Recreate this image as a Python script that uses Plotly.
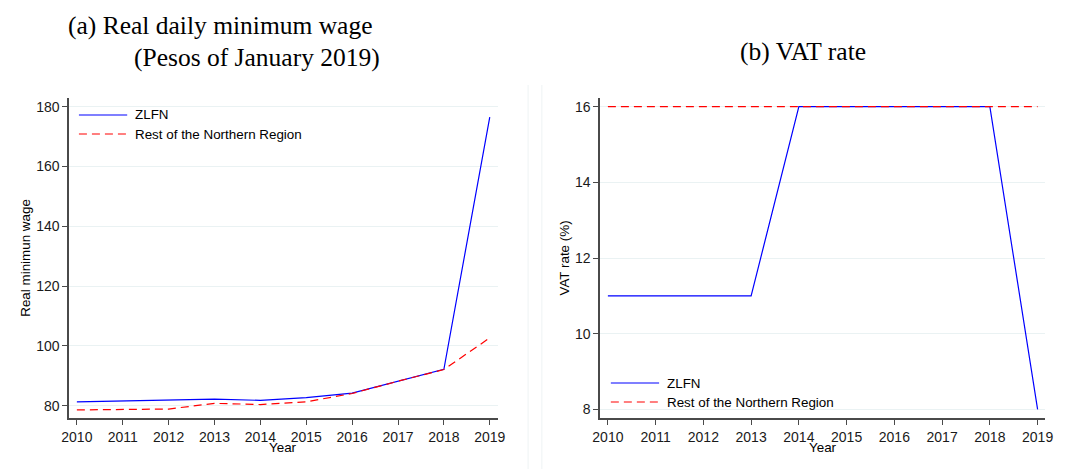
import plotly.graph_objects as go
from plotly.subplots import make_subplots

# ---- data ----
years = [2010, 2011, 2012, 2013, 2014, 2015, 2016, 2017, 2018, 2019]
wage_zlfn = [81.3, 81.6, 81.7, 82.2, 81.8, 82.7, 84.2, 88.3, 92.2, 176.5]
wage_rest = [78.6, 78.8, 78.9, 80.8, 80.4, 81.3, 84.1, 88.2, 92.1, 102.7]
vat_zlfn = [11, 11, 11, 11, 16, 16, 16, 16, 16, 8]
vat_rest = [16, 16, 16, 16, 16, 16, 16, 16, 16, 16]
series_names = ["ZLFN", "Rest of the Northern Region"]
wage_ticks = [80, 100, 120, 140, 160, 180]
vat_ticks = [8, 10, 12, 14, 16]

W, H = 1069, 469
BLUE = "#0000ff"
RED = "#ff0000"
GRID = "#eaf2f3"
AXIS = "#4a4a4a"
SANS = "Liberation Sans, Arial, sans-serif"
SERIF = "Liberation Serif, Times New Roman, serif"
FS = 13.4


def px(x):
    return x / W


def py(y):
    return 1 - y / H


fig = make_subplots(rows=1, cols=2)

fig.add_trace(go.Scatter(x=years, y=wage_zlfn, mode="lines", name=series_names[0],
                         line=dict(color=BLUE, width=1.2)), row=1, col=1)
fig.add_trace(go.Scatter(x=years, y=wage_rest, mode="lines", name=series_names[1],
                         line=dict(color=RED, width=1.2, dash="8px,5px")), row=1, col=1)
fig.add_trace(go.Scatter(x=years, y=vat_zlfn, mode="lines", name=series_names[0],
                         line=dict(color=BLUE, width=1.2)), row=1, col=2)
fig.add_trace(go.Scatter(x=years, y=vat_rest, mode="lines", name=series_names[1],
                         line=dict(color=RED, width=1.2, dash="8px,5px")), row=1, col=2)

tick_font = dict(family=SANS, size=14, color="#1a1a1a")
common_x = dict(tickmode="array", tickvals=years, ticktext=[str(y) for y in years],
                showline=True, linecolor=AXIS, linewidth=1.5, ticks="outside",
                ticklen=5, tickcolor=AXIS, tickwidth=1.2, showgrid=False,
                zeroline=False, tickfont=tick_font)
common_y = dict(showline=True, linecolor=AXIS, linewidth=1.5, ticks="outside",
                ticklen=5, tickcolor=AXIS, tickwidth=1.2, showgrid=True,
                gridcolor=GRID, gridwidth=1, zeroline=False, tickfont=tick_font)

y_dom = [py(418), py(98)]
fig.update_xaxes(common_x, domain=[px(62), px(497)], range=[2009.83, 2019.17],
                 row=1, col=1)
fig.update_xaxes(common_x, domain=[px(601), px(1053)], range=[2009.835, 2019.16],
                 row=1, col=2)
fig.update_yaxes(common_y, domain=y_dom, range=[75.9, 182.9], tickvals=wage_ticks,
                 row=1, col=1)
fig.update_yaxes(common_y, domain=y_dom, range=[7.77, 16.23], tickvals=vat_ticks,
                 row=1, col=2)

annotations = []
shapes = []


def text(x, y, s, size=FS, family=SANS, xanchor="center", angle=0):
    annotations.append(dict(x=px(x), y=py(y), xref="paper", yref="paper", text=s,
                            showarrow=False, xanchor=xanchor, yanchor="middle",
                            textangle=angle, borderpad=0,
                            font=dict(family=family, size=size, color="#000000")))


# panel titles
text(215.5, 25, "(a) Real daily minimum wage", size=25.5, family=SERIF)
text(253, 57.5, "(Pesos of January 2019)", size=25.5, family=SERIF)
text(807, 51.5, "(b) VAT rate", size=25.5, family=SERIF)

# axis titles
text(279.5, 447, "Year")
text(827, 447, "Year")
text(17, 258, "Real minimun wage", angle=-90)
text(564, 258, "VAT rate (%)", angle=-90)


# legends
def legend(x0, y0, dy):
    styles = [dict(color=BLUE, width=1.2), dict(color=RED, width=1.2, dash="8px,5px")]
    for i, (nm, st) in enumerate(zip(series_names, styles)):
        yy = y0 + i * dy
        shapes.append(dict(type="line", xref="paper", yref="paper",
                           x0=px(x0), x1=px(x0 + 49), y0=py(yy), y1=py(yy), line=st))
        text(x0 + 56, yy, nm, xanchor="left")


legend(72, 115, 19)
legend(612, 383, 19)

# faint graph-region borders between the panels
for xb in (528, 542):
    shapes.append(dict(type="line", xref="paper", yref="paper", x0=px(xb), x1=px(xb),
                       y0=py(85), y1=py(469), line=dict(color="#eef3f4", width=1)))

fig.update_layout(width=W, height=H, margin=dict(l=0, r=0, t=0, b=0),
                  paper_bgcolor="white", plot_bgcolor="white", showlegend=False,
                  annotations=annotations, shapes=shapes)

fig.write_html("out.html")
